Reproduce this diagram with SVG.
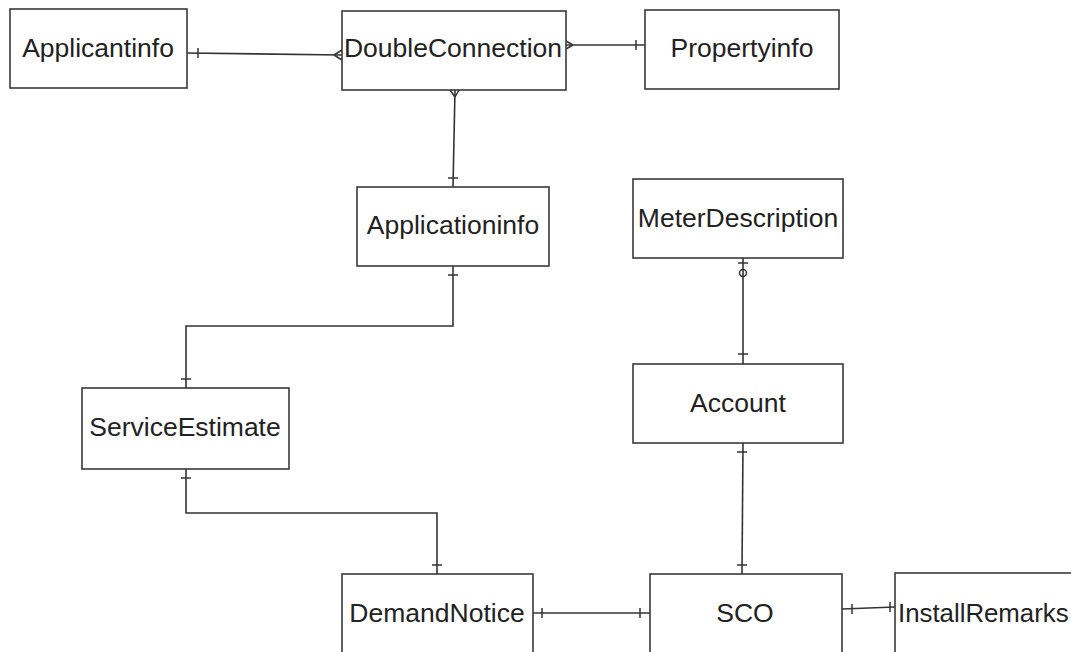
<svg xmlns="http://www.w3.org/2000/svg" width="1071" height="652" viewBox="0 0 1071 652">
  <style>
    .box { fill: #ffffff; stroke: #3a3a3a; stroke-width: 1.6; }
    .lbl { font-family: "Liberation Sans", Arial, sans-serif; font-size: 26.5px; fill: #222222; text-anchor: middle; }
    .edge { fill: none; stroke: #333333; stroke-width: 1.6; }
    .mark { fill: none; stroke: #333333; stroke-width: 1.5; }
  </style>
  <rect x="0" y="0" width="1071" height="652" fill="#ffffff"/>

  <!-- relationship lines with cardinality marks -->
  <g id="connectors">
    <!-- Applicantinfo : DoubleConnection -->
    <path class="edge" d="M187,53 L342,55"/>
    <path class="mark" d="M198,48 V58"/>
    <path class="mark" d="M334,55 L342,50 M334,55 L342,60"/>

    <!-- DoubleConnection : Propertyinfo -->
    <path class="edge" d="M566,45 L645,45"/>
    <path class="mark" d="M573,45 L566,41 M573,45 L566,49"/>
    <path class="mark" d="M636,40 V50"/>

    <!-- DoubleConnection : Applicationinfo -->
    <path class="edge" d="M455,90 L453,187"/>
    <path class="mark" d="M455,97 L450,90 M455,97 L459,90"/>
    <path class="mark" d="M448,178 H458"/>

    <!-- Applicationinfo : ServiceEstimate -->
    <path class="edge" d="M453,266 V326 H186 V388"/>
    <path class="mark" d="M448,275 H458"/>
    <path class="mark" d="M181,379 H191"/>

    <!-- ServiceEstimate : DemandNotice -->
    <path class="edge" d="M186,469 V513 H437 V574"/>
    <path class="mark" d="M181,478 H191"/>
    <path class="mark" d="M432,565 H442"/>

    <!-- DemandNotice : SCO -->
    <path class="edge" d="M533,613 H650"/>
    <path class="mark" d="M542,608 V618"/>
    <path class="mark" d="M640,608 V618"/>

    <!-- MeterDescription : Account -->
    <path class="edge" d="M743,258 V364"/>
    <path class="mark" d="M738,263 H748"/>
    <circle class="mark" cx="743" cy="273" r="3.5" fill="#ffffff"/>
    <path class="mark" d="M738,354 H748"/>

    <!-- Account : SCO -->
    <path class="edge" d="M743,443 L742,574"/>
    <path class="mark" d="M737,452 H747"/>
    <path class="mark" d="M737,565 H747"/>

    <!-- SCO : InstallRemarks -->
    <path class="edge" d="M842,609 L895,607"/>
    <path class="mark" d="M852,604 V614"/>
    <path class="mark" d="M890,602 V612"/>
  </g>

  <!-- entities -->
  <g id="applicantinfo">
    <rect class="box" x="10" y="9" width="177" height="79"/>
    <text class="lbl" x="98" y="57">Applicantinfo</text>
  </g>
  <g id="doubleconnection">
    <rect class="box" x="342" y="11" width="224" height="79"/>
    <text class="lbl" x="453" y="57">DoubleConnection</text>
  </g>
  <g id="propertyinfo">
    <rect class="box" x="645" y="10" width="194" height="79"/>
    <text class="lbl" x="742" y="57">Propertyinfo</text>
  </g>
  <g id="applicationinfo">
    <rect class="box" x="357" y="187" width="192" height="79"/>
    <text class="lbl" x="453" y="234">Applicationinfo</text>
  </g>
  <g id="meterdescription">
    <rect class="box" x="633" y="179" width="210" height="79"/>
    <text class="lbl" x="738" y="227">MeterDescription</text>
  </g>
  <g id="account">
    <rect class="box" x="633" y="364" width="210" height="79"/>
    <text class="lbl" x="738" y="412">Account</text>
  </g>
  <g id="serviceestimate">
    <rect class="box" x="82" y="388" width="207" height="81"/>
    <text class="lbl" x="185" y="436">ServiceEstimate</text>
  </g>
  <g id="demandnotice">
    <rect class="box" x="342" y="574" width="191" height="90"/>
    <text class="lbl" x="437" y="622">DemandNotice</text>
  </g>
  <g id="sco">
    <rect class="box" x="650" y="574" width="192" height="90"/>
    <text class="lbl" x="745" y="622">SCO</text>
  </g>
  <g id="installremarks">
    <rect class="box" x="895" y="573" width="200" height="90"/>
    <!-- sized a touch smaller so the label stays inside the canvas -->
    <text class="lbl" x="898" y="622" style="text-anchor:start;font-size:25.8px">InstallRemarks</text>
  </g>
</svg>
